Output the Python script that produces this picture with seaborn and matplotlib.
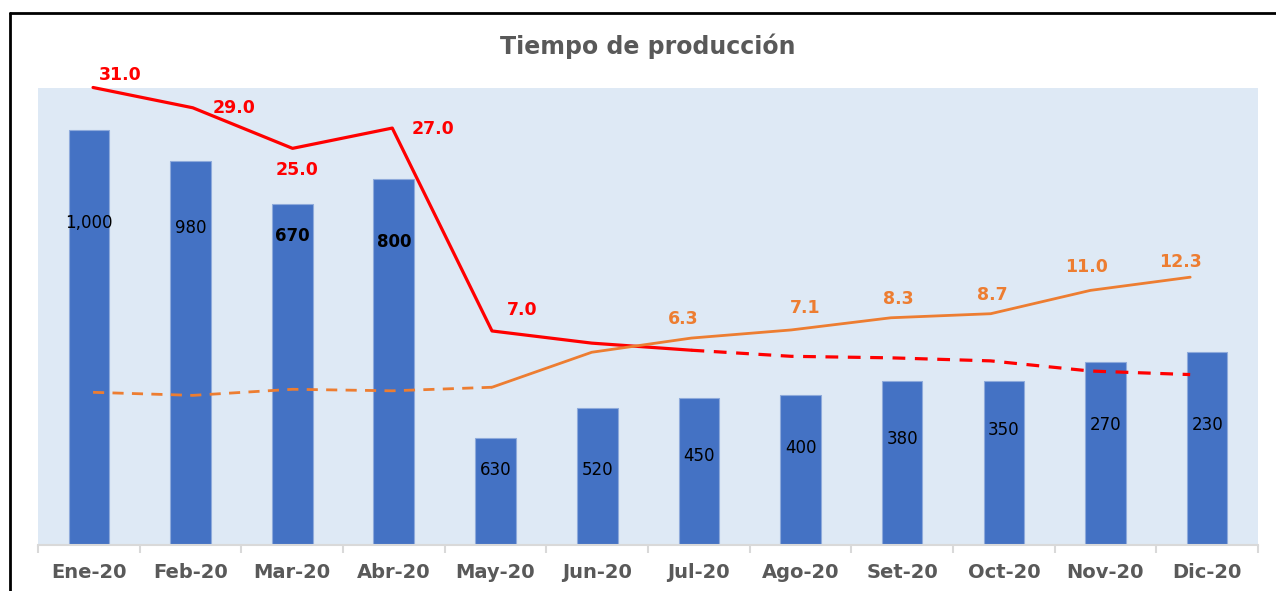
import numpy as np
import pandas as pd
import matplotlib
matplotlib.use("Agg")
import matplotlib.pyplot as plt
import seaborn as sns
from matplotlib.lines import Line2D

# data
months = ["Ene-20", "Feb-20", "Mar-20", "Abr-20", "May-20", "Jun-20",
          "Jul-20", "Ago-20", "Set-20", "Oct-20", "Nov-20", "Dic-20"]
bar_heights = [1000, 925, 820, 880, 257, 330, 355, 362, 395, 395, 440, 465]
bar_labels = ["1,000", "980", "670", "800", "630", "520",
              "450", "400", "380", "350", "270", "230"]
bold_bar_labels = ["670", "800"]
red_values = [31.0, 29.0, 25.0, 27.0, 7.0, 5.8, 5.1, 4.5, 4.35, 4.05, 3.05, 2.7]
orange_values = [0.95, 0.65, 1.25, 1.1, 1.45, 4.9, 6.3, 7.1, 8.3, 8.7, 11.0, 12.3]
red_labelled = [0, 1, 2, 3, 4]
orange_labelled = [6, 7, 8, 9, 10, 11]
red_solid_end = 6      # Jul-20: red goes dashed after this
orange_solid_start = 4  # May-20: orange is dashed before this

RED = "#FF0000"
ORANGE = "#ED7D31"
BLUE = "#4472C4"
GREY = "#595959"

sns.set_style("white")
plt.rcParams["font.family"] = ["DejaVu Sans"]

fig = plt.figure(figsize=(12.76, 5.91), dpi=100)
ax = fig.add_axes([38 / 1276, 1 - 545 / 591, 1220 / 1276, 457 / 591])
ax.set_facecolor("#DEE9F5")

df_bars = pd.DataFrame({"mes": months, "alto": bar_heights})
sns.barplot(data=df_bars, x="mes", y="alto", color=BLUE, width=0.4,
            saturation=1, edgecolor="#8EAADB", linewidth=0.8, ax=ax)
ax.set_xlim(-0.5, 11.5)
ax.set_ylim(0, 1100)
ax.set_xlabel("")
ax.set_ylabel("")
ax.set_yticks([])
for s in ["top", "left", "right"]:
    ax.spines[s].set_visible(False)
ax.spines["bottom"].set_color("#D9D9D9")
ax.spines["bottom"].set_linewidth(1.5)
ax.set_xticks(np.arange(-0.5, 12, 1), minor=True)
ax.tick_params(axis="x", which="major", bottom=False, length=0, pad=13,
               labelsize=14, labelcolor=GREY)
ax.tick_params(axis="x", which="minor", bottom=True, length=6, width=1.5,
               color="#D9D9D9")
for lbl in ax.get_xticklabels():
    lbl.set_fontweight("bold")

# bar value labels (placed like in the original, not centred)
bar_label_pos = [775, 763, 744, 730, 180, 180, 215, 233, 255, 277, 290, 289]
for i, txt in enumerate(bar_labels):
    ax.text(i, bar_label_pos[i], txt, ha="center", va="center", fontsize=12,
            color="black",
            fontweight="bold" if txt in bold_bar_labels else "normal")

# lines on their own overlay axes
ax2 = fig.add_axes(ax.get_position(), frameon=False)
ax2.set_xlim(-0.552, 11.68)
ax2.set_ylim(-14.1, 30.95)
ax2.axis("off")

xs = list(range(len(months)))
sns.lineplot(x=xs[:red_solid_end + 1], y=red_values[:red_solid_end + 1],
             color=RED, lw=2.3, ax=ax2)
sns.lineplot(x=xs[red_solid_end:], y=red_values[red_solid_end:],
             color=RED, lw=2.3, linestyle=(0, (4, 3)), ax=ax2)
sns.lineplot(x=xs[:orange_solid_start + 1], y=orange_values[:orange_solid_start + 1],
             color=ORANGE, lw=2.0, linestyle=(0, (4, 3)), ax=ax2)
sns.lineplot(x=xs[orange_solid_start:], y=orange_values[orange_solid_start:],
             color=ORANGE, lw=2.0, ax=ax2)
for ln in ax2.lines:
    ln.set_clip_on(False)

red_offsets = [(27, 12), (41, 0), (5, -22), (41, -1), (30, 21)]
for k, i in enumerate(red_labelled):
    ax2.annotate(f"{red_values[i]:.1f}", (i, red_values[i]),
                 xytext=red_offsets[k], textcoords="offset pixels",
                 ha="center", va="center", fontsize=12.5, fontweight="bold",
                 color=RED, annotation_clip=False)

orange_offsets = [(-8, 19), (14, 22), (7, 19), (2, 19), (-4, 23), (-10, 15)]
for k, i in enumerate(orange_labelled):
    ax2.annotate(f"{orange_values[i]:.1f}", (i, orange_values[i]),
                 xytext=orange_offsets[k], textcoords="offset pixels",
                 ha="center", va="center", fontsize=12.5, fontweight="bold",
                 color=ORANGE, annotation_clip=False)

fig.text(648 / 1276, 1 - 46 / 591, "Tiempo de producción", ha="center",
         va="center", fontsize=17, fontweight="bold", color=GREY)

# chart frame (left and top edges only are visible in the original)
fig.add_artist(Line2D([9.5 / 1276, 9.5 / 1276], [0, 1 - 13 / 591],
                      transform=fig.transFigure, color="black", lw=2))
fig.add_artist(Line2D([9.5 / 1276, 1], [1 - 13 / 591, 1 - 13 / 591],
                      transform=fig.transFigure, color="black", lw=2))

fig.savefig("out.png", dpi=100)
